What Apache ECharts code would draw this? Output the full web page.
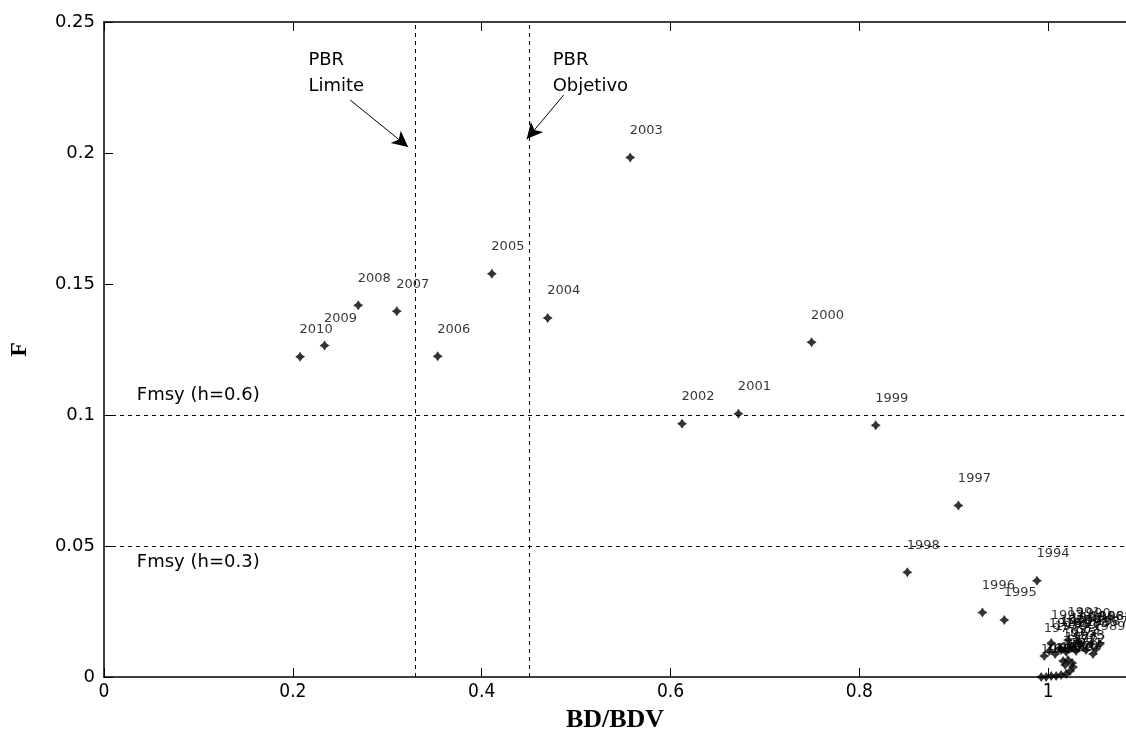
<!DOCTYPE html>
<html><head><meta charset="utf-8">
<script src="https://cdn.jsdelivr.net/npm/echarts@6/dist/echarts.min.js"></script>
<style>html,body{margin:0;padding:0;background:#fff}#c{width:1126px;height:740px}</style>
</head><body><div id="c"></div>
<script>
// ---- data ----
const years = [1965,1966,1967,1968,1969,1970,1971,1972,1973,1974,1975,1976,
  1977,1978,1979,1980,1981,1982,1983,1984,1985,1986,1987,1988,1989,1990,1991,1992,
  1993,1994,1995,1996,1997,1998,1999,2000,2001,2002,2003,2004,2005,2006,2007,2008,2009,2010];
const bdbdv = [0.9926,0.9979,1.0032,1.0084,1.0137,1.0190,1.0232,1.0264,1.0254,1.0211,1.0158,1.0180,
  0.9958,1.0011,1.0074,1.0127,1.0190,1.0243,1.0296,1.0348,1.0401,1.0454,1.0507,1.0549,1.0475,1.0317,1.0211,1.0137,
  1.0032,0.9881,0.9535,0.9303,0.9049,0.8508,0.8173,0.7494,0.6719,0.6122,0.5573,0.4699,0.4108,0.3534,0.3101,0.2693,0.2336,0.2077];
const fValues = [0.0000,0.0000,0.0004,0.0004,0.0008,0.0011,0.0023,0.0038,0.0053,0.0065,0.0061,0.0046,
  0.0080,0.0099,0.0088,0.0111,0.0095,0.0118,0.0099,0.0122,0.0103,0.0126,0.0107,0.0126,0.0088,0.0137,0.0141,0.0103,
  0.0130,0.0367,0.0218,0.0246,0.0655,0.0400,0.0961,0.1278,0.1005,0.0967,0.1983,0.1370,0.1539,0.1224,0.1396,0.1419,0.1265,0.1222];
const pbrValues = [0.326, 0.448];
const pbrNames = ['PBR\nLimite', 'PBR\nObjetivo'];
const fmsyValues = [0.1, 0.05];
const fmsyNames = ['Fmsy (h=0.6)', 'Fmsy (h=0.3)'];
const xName = 'BD/BDV';
const yName = 'F';

// ---- annotation placement (data units) ----
const pbrTextPos = [[0.2165, 0.2405], [0.4752, 0.2405]];
const pbrArrows = [[[0.2608, 0.2202], [0.3221, 0.2023]], [[0.4868, 0.2221], [0.4477, 0.2053]]];
const fmsyTextPos = [[0.0348, 0.1076], [0.0348, 0.0439]];

const chart = echarts.init(document.getElementById('c'), null, {renderer: 'canvas'});
const X_MAX = 1.0824;
const axisCommon = {
  min: 0, interval: 0.2, max: X_MAX,
  axisLine: {show: true, onZero: false, lineStyle: {color: '#000', width: 1.5}},
  axisTick: {show: true, inside: true, length: 9, lineStyle: {color: '#000', width: 1}},
  splitLine: {show: false}
};
const pts = years.map((y, i) => [bdbdv[i], fValues[i], String(y)]);
const dash = {color: '#000', width: 1, type: [4, 4]};

chart.setOption({
  animation: false,
  backgroundColor: '#fff',
  grid: {left: 101, top: 22, right: 0, bottom: 63, containLabel: false},
  xAxis: [
    Object.assign({}, axisCommon, {
      type: 'value', position: 'bottom',
      name: xName, nameLocation: 'middle', nameGap: 28,
      nameTextStyle: {fontFamily: 'Liberation Serif', fontWeight: 'bold', fontSize: 26, color: '#000'},
      axisLabel: {show: true, showMaxLabel: false, margin: 6, color: '#000', fontSize: 19,
        fontFamily: 'Liberation Sans Narrow, DejaVu Sans Condensed, sans-serif'}
    }),
    Object.assign({}, axisCommon, {type: 'value', position: 'top', axisLabel: {show: false}})
  ],
  yAxis: {
    type: 'value', min: 0, max: 0.25, interval: 0.05,
    name: yName, nameLocation: 'middle', nameGap: 72, nameRotate: 90,
    nameTextStyle: {fontFamily: 'Liberation Serif', fontWeight: 'bold', fontSize: 24, color: '#000'},
    axisLine: {show: true, lineStyle: {color: '#000', width: 1.5}},
    axisTick: {show: true, inside: true, length: 9, lineStyle: {color: '#000', width: 1}},
    axisLabel: {margin: 9, color: '#000', fontSize: 18, fontFamily: 'DejaVu Sans'},
    splitLine: {show: false}
  },
  series: [{
    type: 'scatter',
    data: pts,
    symbol: 'path://M0,-5 L2,-2 L5,0 L2,2 L0,5 L-2,2 L-5,0 L-2,-2 Z',
    symbolSize: 10,
    itemStyle: {color: '#000'},
    label: {
      show: true, formatter: p => p.data[2],
      position: [21, -22], align: 'center', verticalAlign: 'middle',
      fontFamily: 'DejaVu Sans', fontSize: 13, color: '#000'
    },
    markLine: {
      silent: true, symbol: ['none', 'none'], label: {show: false},
      lineStyle: dash,
      data: [
        ...pbrValues.map(v => ({xAxis: v})),
        ...fmsyValues.map(v => ({yAxis: v})),
        ...pbrArrows.map(a => [
          {coord: a[0], symbol: 'none', lineStyle: {type: 'solid', width: 1, color: '#000'}},
          {coord: a[1], symbol: 'arrow', symbolSize: [12, 16]}
        ])
      ]
    }
  }]
});

function px(p) { return chart.convertToPixel({gridIndex: 0}, p); }
const g = [];
pbrNames.forEach((t, i) => {
  const p = px(pbrTextPos[i]);
  g.push({type: 'text', x: p[0], y: p[1], style: {text: t, fill: '#000', font: '18px "DejaVu Sans"', lineHeight: 26, textAlign: 'left', textVerticalAlign: 'top'}});
});
fmsyNames.forEach((t, i) => {
  const p = px(fmsyTextPos[i]);
  g.push({type: 'text', x: p[0], y: p[1], style: {text: t, fill: '#000', font: '18px "DejaVu Sans"', textAlign: 'left', textVerticalAlign: 'middle'}});
});
chart.setOption({graphic: g});
</script>
</body></html>
